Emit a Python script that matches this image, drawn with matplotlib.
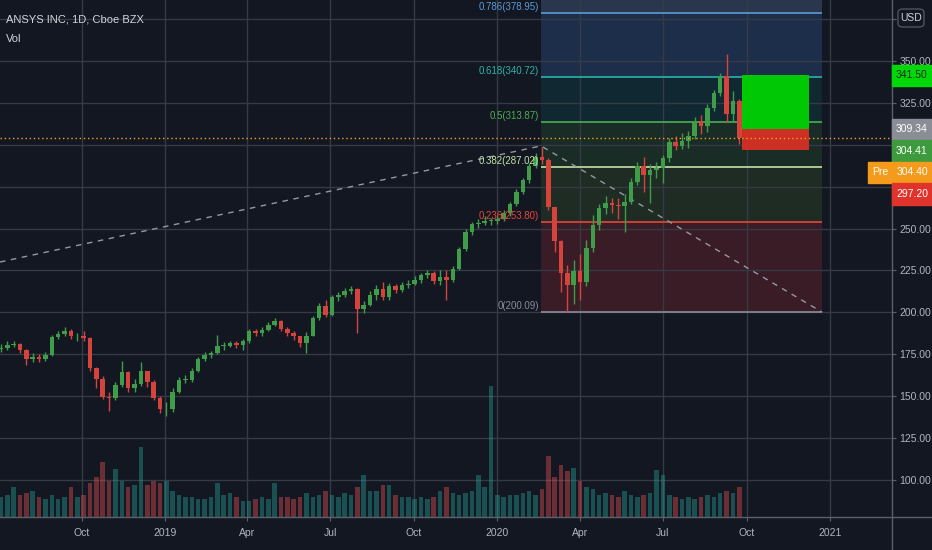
import pandas as pd
import matplotlib
matplotlib.use('Agg')
import matplotlib.pyplot as plt
import matplotlib.dates as mdates
from matplotlib.patches import Rectangle, FancyBboxPatch
from matplotlib.lines import Line2D

# ANSYS daily chart, re-drawn with weekly candles

BG = '#131722'
GRID = '#363a45'
TEXT = '#b2b5be'
AXLINE = '#5d606b'
UP = '#3f9d4a'
DOWN = '#d5433d'

plt.rcParams['font.family'] = ['Liberation Sans', 'DejaVu Sans']
plt.rcParams['font.size'] = 7.5

# weekly candles (week centre dates start 2018-07-04)
first_open = 178.0
week_close = [178.5, 180.5, 181.0, 177.5, 172.0, 173.0, 172.0, 174.5, 185.0, 187.0,
              189.0, 185.5, 185.5, 184.5, 166.6, 160.0, 149.5, 149.0, 156.5, 164.0,
              154.8, 157.0, 165.0, 158.0, 149.0, 142.0, 142.0, 152.5, 159.5, 159.7,
              165.0, 172.0, 174.5, 175.5, 180.0, 180.0, 181.5, 180.5, 182.5, 188.5,
              187.5, 189.5, 192.5, 195.0, 190.0, 187.5, 185.5, 181.5, 186.0, 196.5,
              204.0, 198.5, 209.0, 210.0, 212.5, 214.0, 202.0, 204.5, 210.5, 214.0,
              209.0, 215.5, 213.5, 216.5, 217.0, 219.5, 222.0, 223.5, 218.5, 221.0,
              219.5, 226.0, 237.5, 248.0, 252.5, 253.5, 254.5, 254.5, 255.5, 259.0,
              264.5, 272.0, 279.0, 287.5, 292.5, 291.0, 263.0, 242.5, 223.5, 216.0,
              224.5, 218.0, 238.5, 252.0, 262.0, 265.0, 264.0, 263.5, 266.0, 278.0,
              287.5, 282.0, 285.0, 286.0, 292.0, 302.0, 299.5, 302.5, 305.5, 314.5,
              311.0, 322.0, 331.0, 341.0, 318.5, 326.5, 304.41]
week_high = [181, 182.5, 183, 181.5, 178, 175.5, 175, 176, 186.5, 189,
             191.4, 190, 187.5, 189, 185, 167, 162, 152.5, 158, 171,
             165, 160, 170, 164.5, 159.5, 150, 146.5, 154.5, 161, 162.5,
             166.5, 173.5, 176, 177, 186.4, 182, 183, 183, 184, 190,
             190, 191, 194, 196.5, 195.5, 191, 188.5, 186, 188, 198,
             205.5, 207.5, 210.5, 212, 214.5, 215.5, 214.5, 206.5, 212.5, 216.5,
             218, 217.5, 217, 218, 219, 221.5, 223.5, 225.5, 224.5, 225,
             225.5, 227.5, 239, 250, 254, 255.5, 257.5, 256.5, 257.5, 261,
             266, 273.5, 280.5, 289, 295, 299, 292, 262, 243, 228,
             231, 235, 243, 258, 264.5, 269.5, 268.5, 268, 270.5, 280,
             290, 292.5, 288.5, 290, 294, 304, 305.5, 307, 308.5, 316.5,
             318, 324.5, 333, 343, 354.3, 332, 327.5]
week_low = [176, 177.5, 179, 175.5, 168.6, 170.5, 170, 171, 174, 184,
            185.5, 184, 183, 183, 165, 154.5, 148, 141, 147.5, 155.5,
            152.5, 152.5, 156, 155.5, 147.5, 139.5, 138.2, 140.5, 151.5, 157.5,
            158.5, 164.5, 171, 172.5, 175, 177.5, 179, 178.5, 177.5, 181.5,
            186, 186, 189, 191.5, 188.5, 186, 183.5, 179.5, 175.5, 185.5,
            195.5, 197, 197.5, 206.5, 209, 211, 187.4, 199.5, 203.5, 207,
            207, 207.5, 211.5, 212, 214.5, 216, 217.5, 220.5, 217, 216,
            207.1, 218, 225, 236.5, 246, 250.5, 252, 252, 252.5, 254.5,
            257.5, 263.5, 270.5, 277.5, 286, 288.5, 261, 236, 212, 200.09,
            205, 207.5, 215.5, 236, 249, 258.5, 259, 256, 247.8, 264.5,
            276, 272, 265.5, 280.5, 277.4, 290, 297, 297.5, 298, 303.5,
            306.5, 307.5, 320.5, 329.5, 313.5, 314.5, 300.5]
# volume, thousands of shares
week_vol = [600, 660, 900, 660, 720, 780, 600, 540, 660, 540,
            600, 900, 600, 660, 1020, 1200, 1650, 1080, 1440, 1080,
            900, 960, 2100, 960, 1080, 1020, 1080, 780, 660, 600,
            600, 540, 540, 600, 1020, 660, 720, 600, 480, 480,
            540, 600, 540, 1020, 600, 600, 540, 600, 720, 600,
            660, 780, 660, 600, 720, 660, 900, 1260, 780, 780,
            960, 960, 660, 600, 600, 540, 600, 540, 600, 780,
            900, 720, 660, 720, 780, 1260, 900, 3930, 660, 600,
            660, 660, 720, 780, 660, 840, 1830, 1200, 1560, 1380,
            1470, 1080, 900, 840, 660, 720, 660, 600, 780, 660,
            600, 660, 720, 1410, 1260, 660, 600, 540, 600, 540,
            600, 660, 600, 720, 780, 720, 900]

# fib retracement drawing
fib_ratio = ['1', '0.786', '0.618', '0.5', '0.382', '0.236', '0']
fib_price = [427.70, 378.95, 340.72, 313.87, 287.02, 253.80, 200.09]
fib_line = ['#787b86', '#5b9bd5', '#2bb3a8', '#4caf50', '#c5e1a5', '#e8453c', '#8a8d96']
fib_fill = ['#2a364e', '#1c2e4a', '#102832', '#1a2c26', '#1e2c24', '#3a1c26']
fib_start, fib_end = '2020-02-18', '2020-12-23'

trend_dates = ['2018-07-03', '2020-02-18', '2020-12-23']
trend_price = [230.0, 299.4, 200.09]

# long position tool
pos_start, pos_end = '2020-09-26', '2020-12-09'
pos_target, pos_entry, pos_stop = 341.50, 309.34, 297.20
last_price = 304.41
pre_price = 304.40

quarter_ticks = ['2018-10-01', '2019-01-01', '2019-04-01', '2019-07-01', '2019-10-01',
                 '2020-01-01', '2020-04-01', '2020-07-01', '2020-10-01', '2021-01-01']
quarter_labels = ['Oct', '2019', 'Apr', 'Jul', 'Oct', '2020', 'Apr', 'Jul', 'Oct', '2021']
price_ticks = [100, 125, 150, 175, 200, 225, 250, 275, 300, 325, 350, 375]
hidden_ticks = [275, 300, 375]   # covered by the price tags / USD badge


def d(s):
    return mdates.date2num(pd.Timestamp(s))


W, H = 932, 550
fig = plt.figure(figsize=(W / 100, H / 100), dpi=100, facecolor=BG)
ax = fig.add_axes([0, 33 / H, 892 / W, 517 / H])
ax.set_facecolor(BG)

dates = mdates.date2num(pd.date_range('2018-07-04', periods=len(week_close), freq='7D'))
opens = [first_open] + week_close[:-1]
colors = [UP if c >= o else DOWN for o, c in zip(opens, week_close)]

# candles
ax.vlines(dates, week_low, week_high, colors=colors, lw=1, zorder=3)
bottoms = [min(o, c) for o, c in zip(opens, week_close)]
heights = [max(abs(c - o), 0.4) for o, c in zip(opens, week_close)]
ax.bar(dates, heights, bottom=bottoms, width=5.0, color=colors, lw=0, zorder=4)

# fib levels
x0, x1 = d(fib_start), d(fib_end)
for k in range(len(fib_fill)):
    ax.fill_between([x0, x1], fib_price[k + 1], fib_price[k], color=fib_fill[k], lw=0, zorder=0.2)
for r, p, c in zip(fib_ratio, fib_price, fib_line):
    ax.hlines(p, x0, x1, color=c, lw=1.2, zorder=2)
    ax.annotate(f'{r}({p:.2f})', xy=(x0, p), xytext=(-1.5, 0.5), textcoords='offset points',
                ha='right', va='bottom', color=c, fontsize=7, zorder=6)

ax.plot([d(t) for t in trend_dates], trend_price, color='#9598a1', lw=1,
        ls=(0, (4, 4)), zorder=2.5)

# position boxes
ax.fill_between([d(pos_start), d(pos_end)], pos_entry, pos_target, color='#00c805', lw=0, zorder=5)
ax.fill_between([d(pos_start), d(pos_end)], pos_stop, pos_entry, color='#cc2f24', lw=0, zorder=5)

ax.axhline(last_price, color='#f7a21b', ls=(0, (1, 2)), lw=1, zorder=5)

ax.set_xlim(d('2018-07-03'), d('2021-03-10'))
ax.set_ylim(77.6, 386.6)

ax.set_xticks([d(t) for t in quarter_ticks])
ax.set_xticklabels(quarter_labels)
ax.set_yticks(price_ticks)
ax.set_yticklabels(['' if v in hidden_ticks else f'{v:.2f}' for v in price_ticks])
ax.grid(True, color=GRID, lw=1)
ax.set_axisbelow(True)
for s in ax.spines.values():
    s.set_visible(False)

# volume pane
vax = ax.twinx()
vax.set_ylim(0, 15510)
vol_colors = ['#26a69a' if c == UP else '#ef5350' for c in colors]
vax.bar(dates, week_vol, width=5.0, color=vol_colors, alpha=0.4, lw=0)
vax.set_axis_off()

ax.yaxis.tick_right()
ax.tick_params(axis='y', which='both', right=True, left=False, length=3,
               color=AXLINE, labelcolor=TEXT, pad=2.5, labelsize=7.5)
ax.tick_params(axis='x', length=3, color=AXLINE, labelcolor=TEXT, pad=5, labelsize=7.5)

fig.add_artist(Line2D([0, 1], [33 / H, 33 / H], color=AXLINE, lw=1))
fig.add_artist(Line2D([892 / W, 892 / W], [0, 1], color=AXLINE, lw=1))

# price tags on the right scale, stacked so they do not overlap
tags = [(pos_target, '#00d80a', '#0b2e0b', None),
        (pos_entry, '#8a8d96', 'white', None),
        (last_price, '#3d9b3d', 'white', None),
        (pre_price, '#f59b1c', 'white', 'Pre'),
        (pos_stop, '#e0332b', 'white', None)]
tag_h = 21.5
prev = -100
for price, bg, fg, side in tags:
    y = H - ax.transData.transform((0, price))[1]
    y = max(y, prev + tag_h)
    prev = y
    fig.patches.append(Rectangle((892 / W, (H - y - tag_h / 2) / H), 40 / W, tag_h / H,
                                 transform=fig.transFigure, color=bg, zorder=5))
    fig.text(912 / W, (H - y) / H, f'{price:.2f}', ha='center', va='center',
             color=fg, fontsize=7.5, zorder=6)
    if side:
        fig.patches.append(Rectangle((868 / W, (H - y - tag_h / 2) / H), 24 / W, tag_h / H,
                                     transform=fig.transFigure, color=bg, zorder=5))
        fig.text(880 / W, (H - y) / H, side, ha='center', va='center',
                 color=fg, fontsize=7.5, zorder=6)

fig.patches.append(FancyBboxPatch((898 / W, (H - 27) / H), 26 / W, 18 / H,
                                  boxstyle='round,pad=0,rounding_size=0.006',
                                  transform=fig.transFigure, facecolor=BG,
                                  edgecolor='#50535e', lw=1, zorder=5))
fig.text(911 / W, (H - 18) / H, 'USD', ha='center', va='center', color='#d1d4dc',
         fontsize=7.5, zorder=6)

fig.text(6 / W, (H - 20) / H, 'ANSYS INC, 1D, Cboe BZX', va='center', color='#d1d4dc', fontsize=8)
fig.text(6 / W, (H - 39) / H, 'Vol', va='center', color='#d1d4dc', fontsize=8)

fig.savefig('out.png', dpi=100, facecolor=BG)
